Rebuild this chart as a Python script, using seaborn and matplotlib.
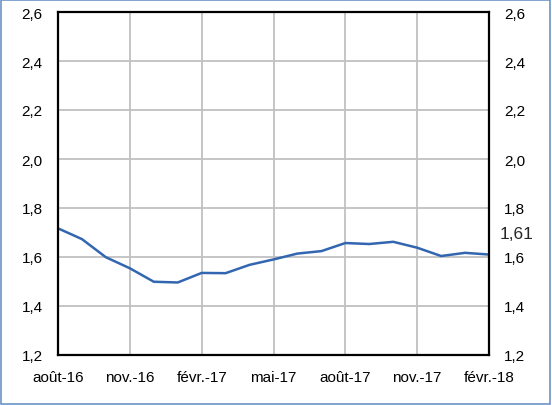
import pandas as pd
import seaborn as sns
import matplotlib.pyplot as plt
from matplotlib.patches import Rectangle

# Données mensuelles (août 2016 - février 2018)
mois = ['août-16', 'sept.-16', 'oct.-16', 'nov.-16', 'déc.-16', 'janv.-17',
        'févr.-17', 'mars-17', 'avr.-17', 'mai-17', 'juin-17', 'juil.-17',
        'août-17', 'sept.-17', 'oct.-17', 'nov.-17', 'déc.-17', 'janv.-18',
        'févr.-18']
valeurs = [1.717, 1.673, 1.599, 1.554, 1.499, 1.496, 1.535, 1.534, 1.568,
           1.590, 1.614, 1.624, 1.657, 1.653, 1.662, 1.638, 1.604, 1.617,
           1.610]
graduations = [1.2, 1.4, 1.6, 1.8, 2.0, 2.2, 2.4, 2.6]
derniere = '1,61'

df = pd.DataFrame({'idx': range(len(mois)), 'mois': mois, 'valeur': valeurs})

sns.set_style('white')
plt.rcParams['font.family'] = ['Liberation Sans', 'DejaVu Sans']

fig = plt.figure(figsize=(5.52, 4.06), dpi=100)
ax = fig.add_axes([58 / 552, 50 / 406, 431 / 552, 343 / 406])

sns.lineplot(data=df, x='idx', y='valeur', ax=ax, color='#3366b0', linewidth=1.8)

ax.set_xlim(0, len(mois) - 1)
ax.set_ylim(graduations[0], graduations[-1])
pos = list(range(0, len(mois), 3))
ax.set_xticks(pos)
ax.set_xticklabels([mois[i] for i in pos])
ax.set_yticks(graduations)
ax.set_yticklabels([f'{g:.1f}'.replace('.', ',') for g in graduations])
ax.grid(True, color='#c0c0c0', linewidth=1.3)
ax.set_xlabel('')
ax.set_ylabel('')
ax.tick_params(axis='both', length=0, labelsize=11, colors='black')
ax.tick_params(axis='y', labelright=True, pad=11)
ax.tick_params(axis='x', pad=11)
for s in ax.spines.values():
    s.set_visible(True)
    s.set_color('black')
    s.set_linewidth(1.6)

ax.annotate(derniere, xy=(len(mois) - 1, valeurs[-1]), xytext=(8, 15),
            textcoords='offset points', fontsize=12.5, va='center', ha='left',
            annotation_clip=False)

fig.add_artist(Rectangle((0.002, 0.003), 0.995, 0.994, transform=fig.transFigure,
                         fill=False, edgecolor='#6d94c8', linewidth=1.2))

fig.savefig('out.png', dpi=100)
